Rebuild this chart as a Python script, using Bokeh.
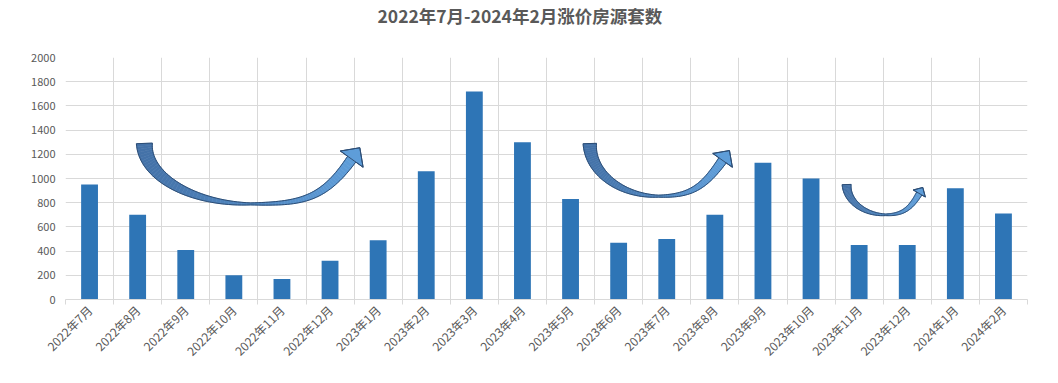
import numpy as np
from math import cos, sin, radians
from bokeh.plotting import figure
from bokeh.models import FixedTicker, Range1d, Title
from bokeh.embed import file_html
from bokeh.resources import INLINE

# ---- data ----
title_text = "2022年7月-2024年2月涨价房源套数"
months = ["2022年7月", "2022年8月", "2022年9月", "2022年10月", "2022年11月", "2022年12月",
          "2023年1月", "2023年2月", "2023年3月", "2023年4月", "2023年5月", "2023年6月",
          "2023年7月", "2023年8月", "2023年9月", "2023年10月", "2023年11月", "2023年12月",
          "2024年1月", "2024年2月"]
counts = [950, 700, 410, 200, 170, 320, 490, 1060, 1720, 1300, 830, 470,
          500, 700, 1130, 1000, 450, 450, 920, 710]
y_ticks = [0, 200, 400, 600, 800, 1000, 1200, 1400, 1600, 1800, 2000]

# decorative curved arrows: (start, bottom, shaft end) in (category index, value) units
arrow_start = [(1.64, 1290), (10.90, 1289), (16.24, 950)]
arrow_bottom = [(3.85, 790), (12.33, 854), (17.05, 700)]
arrow_end = [(5.95, 1160), (13.66, 1150), (17.75, 876)]
arrow_widths = [(8, 1.0, 5, 14, 14), (6.7, 1.0, 4.5, 12, 12), (4.5, 0.8, 3.0, 7, 7)]
arrow_angles = [55, 55, 60]

n = len(months)
centers = np.arange(n) + 0.5
bounds = list(range(n + 1))

W, H = 1042, 367
ML, MR, MT, MB = 65, 15, 57, 68
FW, FH = W - ML - MR, H - MT - MB
YMAX = 2000

p = figure(width=W, height=H, output_backend="svg", toolbar_location=None,
           x_range=Range1d(0, n), y_range=Range1d(0, YMAX),
           min_border_left=ML, min_border_right=MR, min_border_top=MT, min_border_bottom=MB)
p.outline_line_color = None
p.background_fill_color = "white"
p.border_fill_color = "white"

# spacer between frame and title, then the title (added later -> farther from frame)
p.add_layout(Title(text=" ", standoff=27, text_font_size="1px"), "above")
p.add_layout(Title(text=title_text, align="left", offset=312, standoff=0,
                   text_font="Noto Sans CJK SC", text_font_size="17.5px",
                   text_font_style="bold", text_color="#595959"), "above")

# bars
p.vbar(x=centers, top=counts, width=0.35, fill_color="#2e75b6", line_color=None)

# axes
p.xaxis.ticker = FixedTicker(ticks=list(centers), minor_ticks=bounds)
p.xaxis.major_label_overrides = {float(c): m for c, m in zip(centers, months)}
p.xaxis.major_label_orientation = np.pi / 4
p.xaxis.major_tick_in = 0
p.xaxis.major_tick_out = 0
p.xaxis.minor_tick_in = 0
p.xaxis.minor_tick_out = 5
p.xaxis.minor_tick_line_color = "#d9d9d9"
p.xaxis.axis_line_color = "#d9d9d9"
p.xaxis.major_label_text_font = "Noto Sans CJK SC"
p.xaxis.major_label_text_font_size = "12px"
p.xaxis.major_label_text_color = "#595959"
p.xaxis.major_label_standoff = 3

p.yaxis.ticker = FixedTicker(ticks=y_ticks)
p.yaxis.axis_line_color = None
p.yaxis.major_tick_line_color = None
p.yaxis.minor_tick_line_color = None
p.yaxis.major_tick_out = 0
p.yaxis.major_label_standoff = 10
p.yaxis.major_label_text_font = "Noto Sans CJK SC"
p.yaxis.major_label_text_font_size = "11px"
p.yaxis.major_label_text_color = "#595959"

p.xgrid.ticker = FixedTicker(ticks=bounds)
p.xgrid.grid_line_color = "#d9d9d9"
p.ygrid.ticker = FixedTicker(ticks=y_ticks)
p.ygrid.grid_line_color = "#d9d9d9"

# ---- curved arrows ----
SX = FW / n
SY = FH / YMAX


def bez(p0, p1, p2, p3, t):
    t = t[:, None]
    return ((1 - t) ** 3) * p0 + 3 * ((1 - t) ** 2) * t * p1 + 3 * (1 - t) * t * t * p2 + (t ** 3) * p3


def hexmix(c1, c2, f):
    a = [int(c1[i:i + 2], 16) for i in (1, 3, 5)]
    b = [int(c2[i:i + 2], 16) for i in (1, 3, 5)]
    return "#%02x%02x%02x" % tuple(int(round(a[k] + (b[k] - a[k]) * f)) for k in range(3))


for (s, b, e, wd, ang) in zip(arrow_start, arrow_bottom, arrow_end, arrow_widths, arrow_angles):
    S = np.array([s[0] * SX, s[1] * SY])
    B = np.array([b[0] * SX, b[1] * SY])
    E = np.array([e[0] * SX, e[1] * SY])
    ws, wb, we, hw, hl = wd
    a = radians(ang)
    tdir = np.array([cos(a), sin(a)])
    t = np.linspace(0, 1, 40)
    c1 = np.array([S[0], S[1] - 0.55 * (S[1] - B[1])])
    c2 = np.array([B[0] - 0.55 * (B[0] - S[0]), B[1]])
    left = bez(S, c1, c2, B, t)
    d1 = np.array([B[0] + 0.5 * (E[0] - B[0]), B[1]])
    L = 0.45 * np.hypot(*(E - B))
    d2 = E - L * tdir
    right = bez(B, d1, d2, E, t)[1:]
    pts = np.vstack([left, right])
    m = len(pts)
    tang = np.gradient(pts, axis=0)
    tang /= np.linalg.norm(tang, axis=1)[:, None]
    norm = np.column_stack([-tang[:, 1], tang[:, 0]])
    u = np.linspace(0, 2, m)
    hwid = np.where(u <= 1, ws + (wb - ws) * u, wb + (we - wb) * (u - 1))
    P1 = pts + norm * hwid[:, None]
    P2 = pts - norm * hwid[:, None]
    xs, ys, cols = [], [], []
    x0, x1 = pts[0, 0], pts[-1, 0]
    for i in range(m - 1):
        quad = np.array([P1[i], P1[i + 1], P2[i + 1], P2[i]])
        xs.append(list(quad[:, 0] / SX))
        ys.append(list(quad[:, 1] / SY))
        f = (pts[i, 0] - x0) / (x1 - x0)
        cols.append(hexmix("#4472a8", "#5e9dd9", f))
    p.patches(xs, ys, fill_color=cols, line_color=cols, line_width=0.6)
    # head
    te = tang[-1]
    ne = norm[-1]
    Eb = pts[-1]
    hd = np.array([Eb + ne * hw, Eb + te * hl, Eb - ne * hw])
    p.patch(hd[:, 0] / SX, hd[:, 1] / SY, fill_color="#5e9dd9", line_color="#2c4d75", line_width=1)
    # outline
    outline = np.vstack([P1, Eb + ne * hw, Eb + te * hl, Eb - ne * hw, P2[::-1], P1[:1]])
    p.line(outline[:, 0] / SX, outline[:, 1] / SY, line_color="#2c4d75", line_width=1)

open("out.html", "w").write(file_html(p, INLINE))
